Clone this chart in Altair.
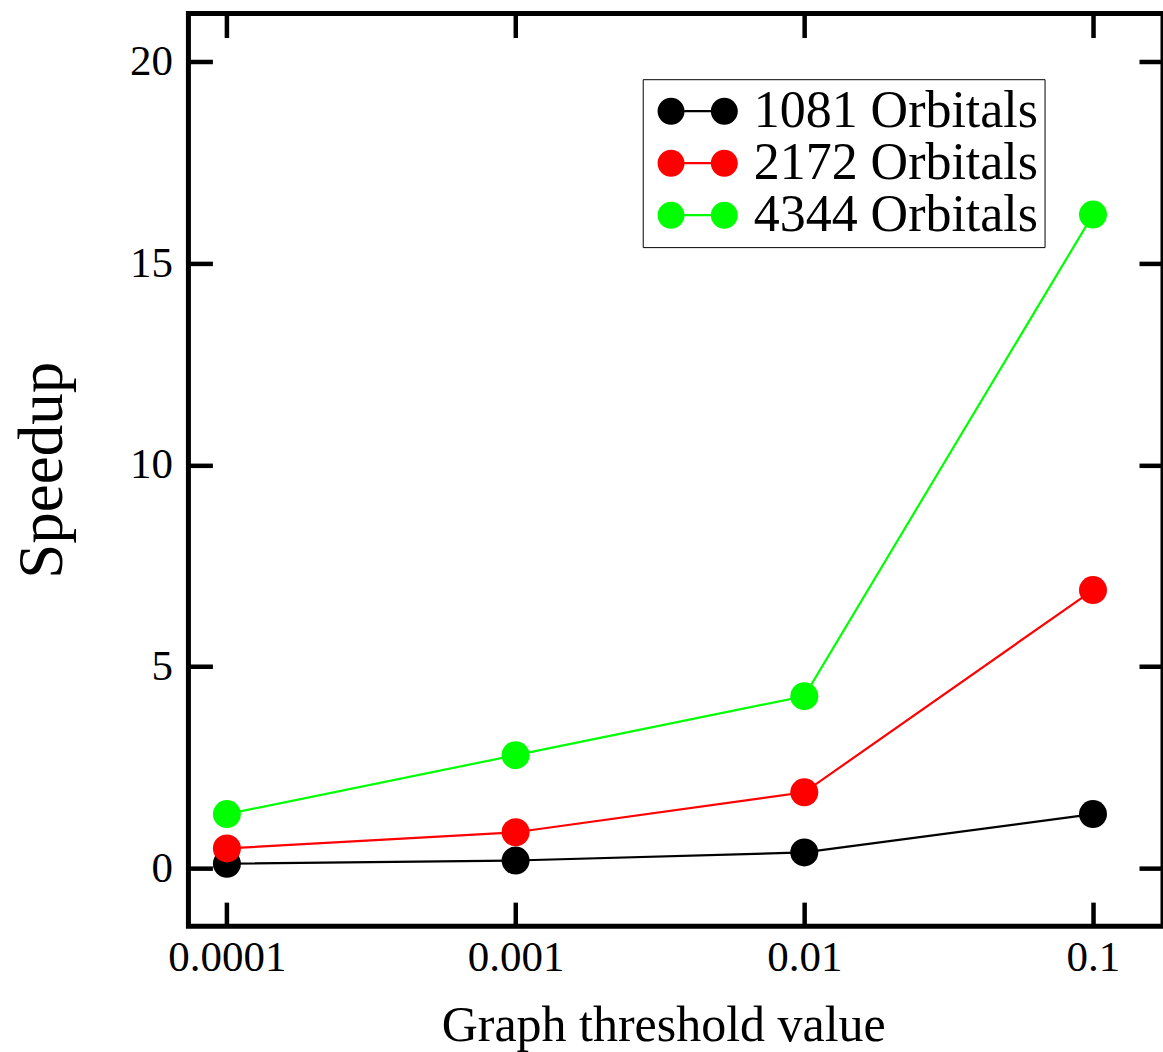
import altair as alt
import pandas as pd

thresholds = [0.0001, 0.001, 0.01, 0.1]
series_names = ["1081 Orbitals", "2172 Orbitals", "4344 Orbitals"]
speedup_1081 = [0.12, 0.2, 0.4, 1.35]
speedup_2172 = [0.5, 0.9, 1.89, 6.9]
speedup_4344 = [1.35, 2.81, 4.27, 16.2]
series_colors = ["#000000", "#ff0000", "#00ff00"]
y_ticks = [0, 5, 10, 15, 20]

rows = []
for name, vals in zip(series_names, [speedup_1081, speedup_2172, speedup_4344]):
    for t, v in zip(thresholds, vals):
        rows.append({"threshold": t, "speedup": v, "series": name})
df = pd.DataFrame(rows)

FONT = "Liberation Serif"
color_scale = alt.Scale(domain=series_names, range=series_colors)
x_scale = alt.Scale(type="log", domain=[7.357e-5, 0.1748], nice=False)
y_scale = alt.Scale(domain=[-1.425, 21.18], nice=False, zero=False)

sym_path = ("M-2.974,0A1,1,0,1,1,-0.974,0A1,1,0,1,1,-2.974,0Z "
            "M0.974,0A1,1,0,1,1,2.974,0A1,1,0,1,1,0.974,0Z "
            "M-0.98,-0.085L0.98,-0.085L0.98,0.085L-0.98,0.085Z")

legend = alt.Legend(
    title=None, orient="none", legendX=454.5, legendY=65.7,
    symbolType=sym_path, symbolSize=729, symbolStrokeWidth=0,
    symbolOffset=23, labelOffset=30, padding=6, labelLimit=600,
    labelFont=FONT, labelFontSize=52, labelColor="black",
    strokeColor="black", fillColor="white", rowPadding=0,
)

common_axis = dict(domain=False, grid=False, tickSize=24, offset=-24,
                   tickWidth=4.5, tickColor="black")

lines = alt.Chart(df).mark_line(strokeWidth=2.2).encode(
    x=alt.X("threshold:Q", scale=x_scale,
            axis=alt.Axis(orient="top", values=thresholds, labels=False, title=None, **common_axis)),
    y=alt.Y("speedup:Q", scale=y_scale,
            axis=alt.Axis(orient="right", values=y_ticks, labels=False, title=None, **common_axis)),
    color=alt.Color("series:N", scale=color_scale, legend=None),
    detail="series:N",
)

points = alt.Chart(df).mark_circle(size=784, opacity=1).encode(
    x=alt.X("threshold:Q", scale=x_scale,
            axis=alt.Axis(orient="bottom", values=thresholds, format=".4~f",
                          labelFont=FONT, labelFontSize=43, labelColor="black",
                          labelPadding=10, title="Graph threshold value",
                          titleFont=FONT, titleFontSize=50, titleFontWeight="normal",
                          titleColor="black", titlePadding=21, titleX=475,
                          labelFlush=False, **common_axis)),
    y=alt.Y("speedup:Q", scale=y_scale,
            axis=alt.Axis(orient="left", values=y_ticks,
                          labelFont=FONT, labelFontSize=43, labelColor="black",
                          labelPadding=16, title="Speedup",
                          titleFont=FONT, titleFontSize=63, titleFontWeight="normal",
                          titleColor="black", titlePadding=55, labelFlush=False,
                          **common_axis)),
    color=alt.Color("series:N", scale=color_scale, legend=legend),
)

chart = alt.layer(lines, points).resolve_axis(
    x="independent", y="independent"
).resolve_legend(
    color="independent"
).properties(
    width=975, height=913,
    background="white",
    autosize=alt.AutoSizeParams(type="none"),
    padding={"left": 188.5, "top": 13.3, "right": 0, "bottom": 126},
).configure_view(
    stroke="black", strokeWidth=5
)

chart.save("out.html", embed_options={"renderer": "svg", "actions": False})
